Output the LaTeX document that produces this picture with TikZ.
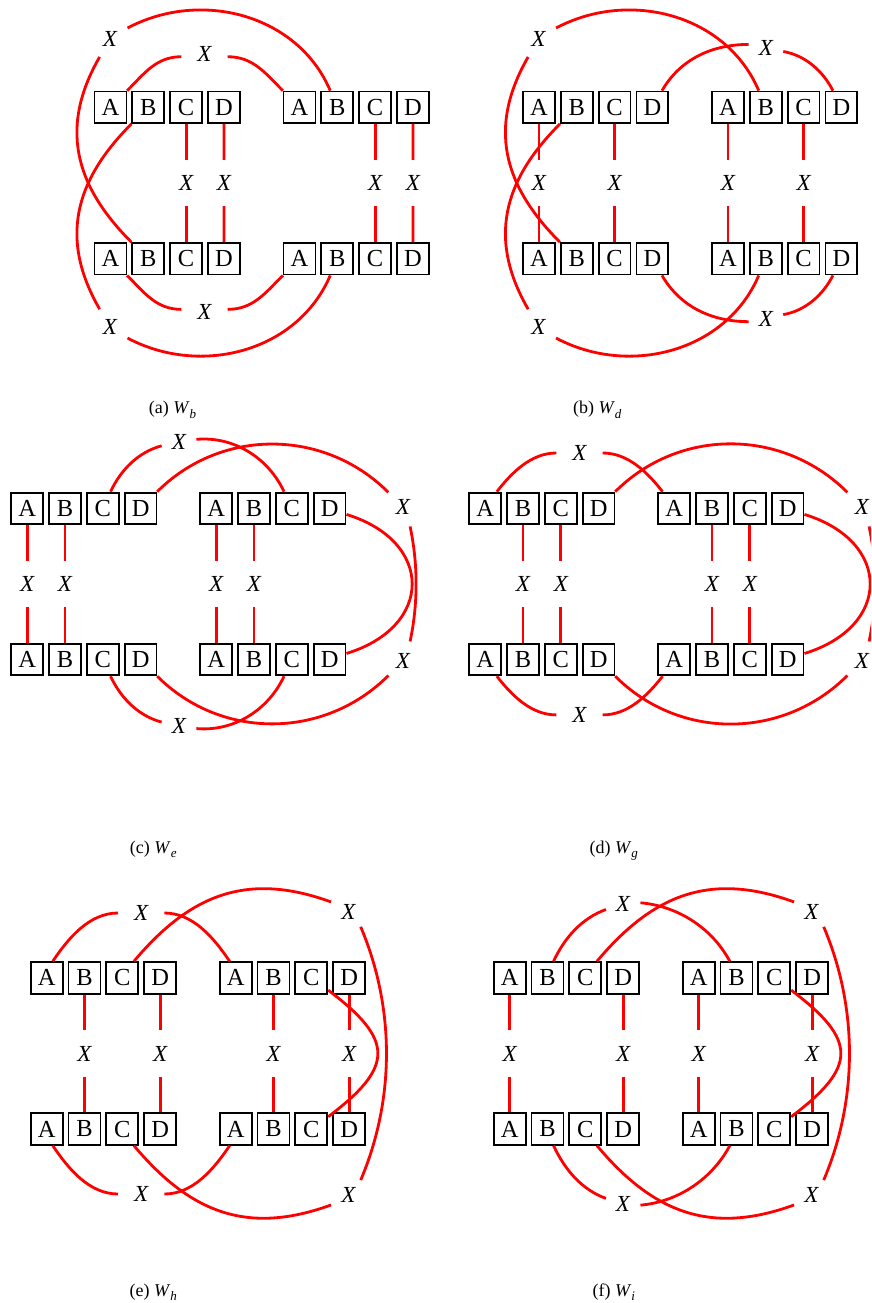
\documentclass[tikz,border=0pt]{standalone}
\usepackage{fontspec}
\setmainfont{Liberation Serif}
\newcommand\bxfont{\fontsize{24.5pt}{24.5pt}\selectfont}
\newcommand\xfont{\fontsize{23pt}{23pt}\selectfont\itshape}
\newcommand\capfont{\fontsize{18pt}{18pt}\selectfont}
\newcommand\mysub[1]{\raisebox{-0.25em}{\fontsize{13pt}{13pt}\selectfont\itshape #1}}
\newcommand\mkrow[3]{\foreach \L [count=\i from 0] in {A,B,C,D}{\node[bx] (#1\L) at ({#2+\i*37.8},{-#3}) {\L};}}
\begin{document}
\begin{tikzpicture}[x=1pt,y=1pt,
  bx/.style={draw=black, line width=1.8pt, minimum width=31.9pt, minimum height=31.4pt, inner sep=0pt, font=\bxfont},
  xn/.style={circle, inner sep=0pt, font=\xfont},
  xv/.style={xn, minimum size=46pt},
  xo/.style={xn, minimum size=41pt},
  xs/.style={xn, minimum size=39pt},
  xt/.style={xn, minimum size=35pt},
  wire/.style={draw=red, line width=2.8pt},
  capt/.style={anchor=base, font=\capfont, inner sep=0pt}]
\useasboundingbox (0,0) rectangle (871,-1303);
\clip (0,0) rectangle (871,-1303);

% ---------------- (a) ----------------
\mkrow{aTl}{110.5}{107.3}
\mkrow{aTr}{299.5}{107.3}
\mkrow{aBl}{110.5}{258.8}
\mkrow{aBr}{299.5}{258.8}
\node[xv] (aX1) at (186.1,-183) {X};
\node[xv] (aX2) at (223.9,-183) {X};
\node[xv] (aX3) at (375.1,-183) {X};
\node[xv] (aX4) at (412.9,-183) {X};
\node[xv] (aXt) at (204.5,-54.3) {X};
\node[xv] (aXb) at (204.5,-311.8) {X};
\node[xo] (aXu) at (110,-39) {X};
\node[xo] (aXl) at (110,-327.1) {X};
\draw[wire] (aTlA.45) to[out=45,in=180] (aXt.186);
\draw[wire] (aXt.-6) to[out=0,in=135] (aTrA.135);
\draw[wire] (aBlA.-45) to[out=-45,in=180] (aXb.174);
\draw[wire] (aXb.6) to[out=0,in=-135] (aBrA.-135);
\draw[wire] (aBlB.north west) to[out=135,in=240,looseness=1.1] (aXu.240);
\draw[wire] (aXu.32) to[out=28,in=113] (aTrB.113);
\draw[wire] (aTlB.south west) to[out=-135,in=120,looseness=1.1] (aXl.120);
\draw[wire] (aXl.-32) to[out=-28,in=-113] (aBrB.-113);
\draw[wire] (aTlC) -- (aX1); \draw[wire] (aX1) -- (aBlC);
\draw[wire] (aTlD) -- (aX2); \draw[wire] (aX2) -- (aBlD);
\draw[wire] (aTrC) -- (aX3); \draw[wire] (aX3) -- (aBrC);
\draw[wire] (aTrD) -- (aX4); \draw[wire] (aX4) -- (aBrD);
\node[capt] (capa) at (172.5,-413.7) {(a) \textit{W}\mysub{b}};

% ---------------- (b) ----------------
\mkrow{bTl}{539}{107.3}
\mkrow{bTr}{728}{107.3}
\mkrow{bBl}{539}{258.8}
\mkrow{bBr}{728}{258.8}
\node[xv] (bX1) at (539,-183) {X};
\node[xv] (bX2) at (614.6,-183) {X};
\node[xv] (bX3) at (728,-183) {X};
\node[xv] (bX4) at (803.6,-183) {X};
\node[xo] (bXu) at (538.5,-39) {X};
\node[xo] (bXl) at (538.5,-327.1) {X};
\node[xt] (bXr) at (766,-47.5) {X};
\node[xt] (bXs) at (766,-318.6) {X};
\draw[wire] (bBlB.north west) to[out=135,in=240,looseness=1.1] (bXu.240);
\draw[wire] (bXu.32) to[out=28,in=113] (bTrB.113);
\draw[wire] (bTlB.south west) to[out=-135,in=120,looseness=1.1] (bXl.120);
\draw[wire] (bXl.-32) to[out=-28,in=-113] (bBrB.-113);
\draw[wire] (bTlD.60) to[out=60,in=180,looseness=.95] (bXr.170);
\draw[wire] (bXr.-13) to[out=-10,in=117,looseness=.9] (bTrD.117);
\draw[wire] (bBlD.-60) to[out=-60,in=180,looseness=.95] (bXs.190);
\draw[wire] (bXs.13) to[out=10,in=-117,looseness=.9] (bBrD.-117);
\draw[wire] (bTlA) -- (bX1); \draw[wire] (bX1) -- (bBlA);
\draw[wire] (bTlC) -- (bX2); \draw[wire] (bX2) -- (bBlC);
\draw[wire] (bTrA) -- (bX3); \draw[wire] (bX3) -- (bBrA);
\draw[wire] (bTrC) -- (bX4); \draw[wire] (bX4) -- (bBrC);
\node[capt] (capb) at (597.2,-413.7) {(b) \textit{W}\mysub{d}};

% ---------------- (c) ----------------
\mkrow{cTl}{27.2}{508.3}
\mkrow{cTr}{216.2}{508.3}
\mkrow{cBl}{27.2}{659.6}
\mkrow{cBr}{216.2}{659.6}
\node[xv] (cX1) at (27.2,-584) {X};
\node[xv] (cX2) at (65,-584) {X};
\node[xv] (cX3) at (216.2,-584) {X};
\node[xv] (cX4) at (254,-584) {X};
\node[xt] (cXt) at (178.8,-441.5) {X};
\node[xt] (cXb) at (178.8,-726.4) {X};
\node[xo] (cXr) at (403,-507) {X};
\node[xo] (cXs) at (403,-660.9) {X};
\draw[wire] (cTlC.65) to[out=65,in=195,looseness=.9] (cXt.194);
\draw[wire] (cXt.7) to[out=5,in=115,looseness=.94] (cTrC.115);
\draw[wire] (cBlC.-65) to[out=-65,in=165,looseness=.9] (cXb.166);
\draw[wire] (cXb.-7) to[out=-5,in=-115,looseness=.94] (cBrC.-115);
\draw[wire] (cTlD.45) to[out=45,in=135] (cXr.135);
\draw[wire] (cXr.-70) to[out=-78,in=78,looseness=.86] (cXs.70);
\draw[wire] (cXs.-135) to[out=-135,in=-45] (cBlD.-45);
\draw[wire] (cTrD.-20) to[out=-17,in=17,looseness=1.69] (cBrD.20);
\draw[wire] (cTlA) -- (cX1); \draw[wire] (cX1) -- (cBlA);
\draw[wire] (cTlB) -- (cX2); \draw[wire] (cX2) -- (cBlB);
\draw[wire] (cTrA) -- (cX3); \draw[wire] (cX3) -- (cBrA);
\draw[wire] (cTrB) -- (cX4); \draw[wire] (cX4) -- (cBrB);
\node[capt] (capc) at (153.3,-853) {(c) \textit{W}\mysub{e}};

% ---------------- (d) ----------------
\mkrow{dTl}{485.2}{508.3}
\mkrow{dTr}{674.2}{508.3}
\mkrow{dBl}{485.2}{659.6}
\mkrow{dBr}{674.2}{659.6}
\node[xv] (dX1) at (523,-584) {X};
\node[xv] (dX2) at (560.8,-584) {X};
\node[xv] (dX3) at (712,-584) {X};
\node[xv] (dX4) at (749.8,-584) {X};
\node[xv] (dXt) at (579.5,-453) {X};
\node[xv] (dXb) at (579.5,-714.9) {X};
\node[xo] (dXr) at (862,-507) {X};
\node[xo] (dXs) at (862,-660.9) {X};
\draw[wire] (dTlA.55) to[out=52,in=180,looseness=.9] (dXt.180);
\draw[wire] (dXt.0) to[out=0,in=128,looseness=.9] (dTrA.125);
\draw[wire] (dBlA.-55) to[out=-52,in=180,looseness=.9] (dXb.180);
\draw[wire] (dXb.0) to[out=0,in=-128,looseness=.9] (dBrA.-125);
\draw[wire] (dTlD.45) to[out=45,in=135] (dXr.135);
\draw[wire] (dXr.-70) to[out=-78,in=78,looseness=.86] (dXs.70);
\draw[wire] (dXs.-135) to[out=-135,in=-45] (dBlD.-45);
\draw[wire] (dTrD.-20) to[out=-17,in=17,looseness=1.69] (dBrD.20);
\draw[wire] (dTlB) -- (dX1); \draw[wire] (dX1) -- (dBlB);
\draw[wire] (dTlC) -- (dX2); \draw[wire] (dX2) -- (dBlC);
\draw[wire] (dTrB) -- (dX3); \draw[wire] (dX3) -- (dBrB);
\draw[wire] (dTrC) -- (dX4); \draw[wire] (dX4) -- (dBrC);
\node[capt] (capd) at (613.7,-853) {(d) \textit{W}\mysub{g}};

% ---------------- (e) ----------------
\mkrow{eTl}{46.7}{977.9}
\mkrow{eTr}{235.7}{977.9}
\mkrow{eBl}{46.7}{1129}
\mkrow{eBr}{235.7}{1129}
\node[xv] (eX1) at (84.5,-1053.5) {X};
\node[xv] (eX2) at (160.1,-1053.5) {X};
\node[xv] (eX3) at (273.5,-1053.5) {X};
\node[xv] (eX4) at (349.1,-1053.5) {X};
\node[xv] (eXt) at (141.2,-913) {X};
\node[xv] (eXb) at (141.2,-1194) {X};
\node[xs] (eXr) at (348.3,-911.5) {X};
\node[xs] (eXs) at (348.3,-1195.4) {X};
\draw[wire] (eTlA.70) to[out=56,in=180,looseness=.9] (eXt.180);
\draw[wire] (eXt.0) to[out=0,in=124,looseness=.9] (eTrA.110);
\draw[wire] (eBlA.-70) to[out=-56,in=180,looseness=.9] (eXb.180);
\draw[wire] (eXb.0) to[out=0,in=-124,looseness=.9] (eBrA.-110);
\draw[wire] (eTlC.55) to[out=50,in=160,looseness=1.1] (eXr.151);
\draw[wire] (eXr.-51) to[out=-67,in=67,looseness=.89] (eXs.51);
\draw[wire] (eXs.-151) to[out=-160,in=-50,looseness=1.1] (eBlC.-55);
\draw[wire] (eTrC.-36) to[out=-37,in=37,looseness=1.68] (eBrC.36);
\draw[wire] (eTlB) -- (eX1); \draw[wire] (eX1) -- (eBlB);
\draw[wire] (eTlD) -- (eX2); \draw[wire] (eX2) -- (eBlD);
\draw[wire] (eTrB) -- (eX3); \draw[wire] (eX3) -- (eBrB);
\draw[wire] (eTrD) -- (eX4); \draw[wire] (eX4) -- (eBrD);
\node[capt] (cape) at (153.3,-1296.3) {(e) \textit{W}\mysub{h}};

% ---------------- (f) ----------------
\mkrow{fTl}{509.7}{977.9}
\mkrow{fTr}{698.7}{977.9}
\mkrow{fBl}{509.7}{1129}
\mkrow{fBr}{698.7}{1129}
\node[xv] (fX1) at (509.7,-1053.5) {X};
\node[xv] (fX2) at (623.1,-1053.5) {X};
\node[xv] (fX3) at (698.7,-1053.5) {X};
\node[xv] (fX4) at (812.1,-1053.5) {X};
\node[xt] (fXt) at (622.8,-904) {X};
\node[xt] (fXb) at (622.8,-1203.9) {X};
\node[xs] (fXr) at (811.3,-911.5) {X};
\node[xs] (fXs) at (811.3,-1195.4) {X};
\draw[wire] (fTlB.70) to[out=65,in=200,looseness=.9] (fXt.198);
\draw[wire] (fXt.4) to[out=-5,in=118,looseness=.9] (fTrB.112);
\draw[wire] (fBlB.-70) to[out=-65,in=160,looseness=.9] (fXb.162);
\draw[wire] (fXb.-4) to[out=5,in=-118,looseness=.9] (fBrB.-112);
\draw[wire] (fTlC.55) to[out=50,in=160,looseness=1.1] (fXr.151);
\draw[wire] (fXr.-51) to[out=-67,in=67,looseness=.89] (fXs.51);
\draw[wire] (fXs.-151) to[out=-160,in=-50,looseness=1.1] (fBlC.-55);
\draw[wire] (fTrC.-36) to[out=-37,in=37,looseness=1.68] (fBrC.36);
\draw[wire] (fTlA) -- (fX1); \draw[wire] (fX1) -- (fBlA);
\draw[wire] (fTlD) -- (fX2); \draw[wire] (fX2) -- (fBlD);
\draw[wire] (fTrA) -- (fX3); \draw[wire] (fX3) -- (fBrA);
\draw[wire] (fTrD) -- (fX4); \draw[wire] (fX4) -- (fBrD);
\node[capt] (capf) at (613.8,-1296.3) {(f) \textit{W}\mysub{i}};
\end{tikzpicture}
\end{document}
